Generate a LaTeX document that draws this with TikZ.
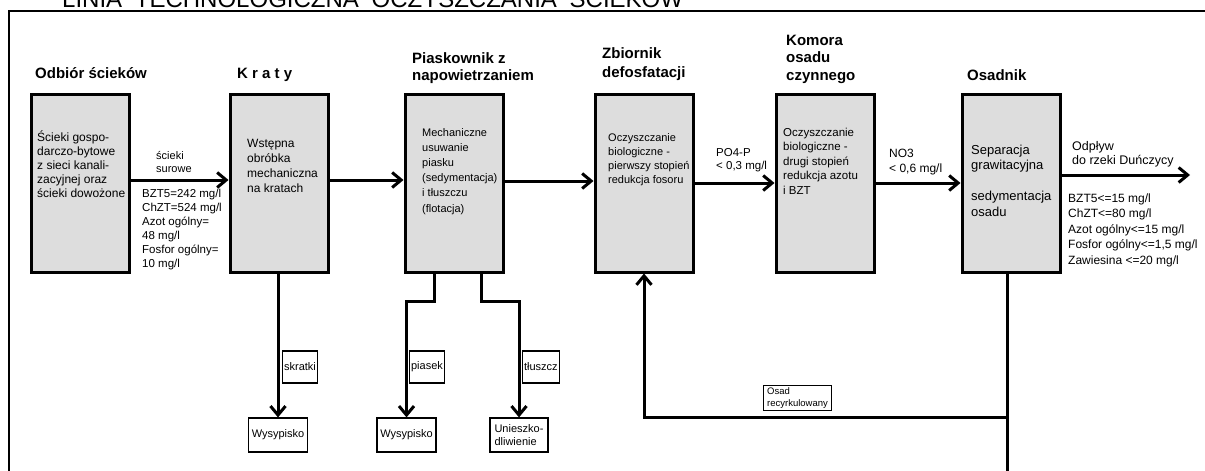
\documentclass[tikz,border=0pt]{standalone}
\usepackage{fontspec}
\setmainfont{Liberation Sans}
\usetikzlibrary{arrows.meta,positioning}
\definecolor{boxgray}{RGB}{221,221,221}
\newcommand{\fs}[2]{\fontsize{#1}{#2}\selectfont}

\begin{document}
\begin{tikzpicture}[x=1pt,y=-1pt,
  proc/.style={draw,line width=3pt,fill=boxgray,minimum width=98pt,minimum height=178pt,inner sep=0pt},
  head/.style={anchor=base west,inner sep=0pt,align=left,font=\fs{15}{17.5}\bfseries},
  txt/.style={anchor=base west,inner sep=0pt,align=left},
  lbl/.style={draw,line width=1.2pt,inner xsep=1.5pt,minimum height=32pt,anchor=west,font=\fs{11}{13}},
  dump/.style={draw,line width=1.2pt,minimum height=34pt,font=\fs{11}{13}},
  flow/.style={line width=3pt},
  arr/.style={-{Straight Barb[length=9pt,width=15pt]}}
]
\useasboundingbox (0,0) rectangle (1205,471);

% frame and title
\draw[line width=1.5pt] (1215,11) -- (9,11) -- (9,480);
\node[txt,font=\fs{24}{28}] (title) at (62,7.5) {LINIA\hspace{12.7pt}TECHNOLOGICZNA\hspace{12.7pt}OCZYSZCZANIA\hspace{12.7pt}ŚCIEKÓW};

% process boxes
\node[proc] (odb) at (80,183) {};
\node[proc] (krat) at (279,183) {};
\node[proc] (piask) at (454,183) {};
\node[proc] (defos) at (644,183) {};
\node[proc] (komora) at (825,183) {};
\node[proc] (osad) at (1011,183) {};

% headings (base = last line)
\node[head] (h1) at (35,78) {Odbiór ścieków};
\node[head] (h2) at (237,78) {K r a t y};
\node[head] (h3) at (412,80.5) {Piaskownik z\\napowietrzaniem};
\node[head,font=\fs{15}{19}\bfseries] (h4) at (602,77) {Zbiornik\\defosfatacji};
\node[head] (h5) at (786,80) {Komora\\osadu\\czynnego};
\node[head] (h6) at (967,80) {Osadnik};

% texts in boxes
\node[txt,font=\fs{12}{14}] (odbtxt) at (37,197) {Ścieki gospo-\\darczo-bytowe\\z sieci kanali-\\zacyjnej oraz\\ścieki dowożone};
\node[txt,font=\fs{12}{15}] (krattxt) at (247,192) {Wstępna\\obróbka\\mechaniczna\\na kratach};
\node[txt,font=\fs{11}{15.2}] (piasktxt) at (422,212) {Mechaniczne\\usuwanie\\piasku\\(sedymentacja)\\i tłuszczu\\(flotacja)};
\node[txt,font=\fs{11}{14}] (defostxt) at (608,183) {Oczyszczanie\\biologiczne -\\pierwszy stopień\\redukcja fosoru};
\node[txt,font=\fs{11.5}{14.5}] (komtxt) at (783,194) {Oczyszczanie\\biologiczne -\\drugi stopień\\redukcja azotu\\i BZT};
\node[txt,font=\fs{13}{15.5}] (osadtxt) at (971,216) {Separacja\\grawitacyjna\\[15.5pt]sedymentacja\\osadu};

% flow labels
\node[txt,font=\fs{11}{13.5}] (surtxt) at (156,172.5) {ścieki\\surowe};
\node[txt,font=\fs{11.5}{14}] (wlot) at (142,267) {BZT5=242 mg/l\\ChZT=524 mg/l\\Azot ogólny=\\48 mg/l\\Fosfor ogólny=\\10 mg/l};
\node[txt,font=\fs{11.5}{13.5}] (po4) at (716,169.5) {PO4-P\\< 0,3 mg/l};
\node[txt,font=\fs{12}{15}] (no3) at (889,172) {NO3\\< 0,6 mg/l};
\node[txt,font=\fs{12.5}{14}] (odplyw) at (1072,164) {Odpływ\\do rzeki Duńczycy};
\node[txt,font=\fs{12}{15.5}] (wylot) at (1068,264) {BZT5<=15 mg/l\\ChZT<=80 mg/l\\Azot ogólny<=15 mg/l\\Fosfor ogólny<=1,5 mg/l\\Zawiesina <=20 mg/l};

% main line
\draw[flow,arr] ([yshift=3pt]odb.east) -- ([yshift=3pt]krat.west);
\draw[flow,arr] ([yshift=3pt]krat.east) -- ([yshift=3pt]piask.west);
\draw[flow,arr] ([yshift=2pt]piask.east) -- ([yshift=2pt]defos.west);
\draw[flow,arr] (defos.east) -- (komora.west);
\draw[flow,arr] (komora.east) -- (osad.west);
\coordinate (rzeka) at (1190,175);
\draw[flow,arr] (osad.east |- rzeka) -- (rzeka);

% waste
\node[dump,minimum width=59pt] (wys1) at (278,435) {Wysypisko};
\node[dump,minimum width=57pt] (wys2) at (406.5,435) {Wysypisko};
\node[dump,minimum width=58pt,align=left] (unsz) at (519,435) {Unieszko-\\dliwienie};
\draw[flow,arr] (krat.south -| wys1.north) -- (wys1.north);
\draw[flow,arr] ([xshift=-20pt]piask.south) -- ++(0,28) -| (wys2.north);
\draw[flow,arr] ([xshift=27pt]piask.south) -- ++(0,28) -| (unsz.north);
\node[lbl] (skr) at (282,367) {skratki};
\node[lbl] (pias) at (409,367) {piasek};
\node[lbl] (tlu) at (522,367) {tłuszcz};

% recirculation
\coordinate (rdol) at (1007,480);
\coordinate (rwez) at (1007,417);
\draw[flow] ([xshift=-4pt]osad.south) -- (rdol);
\draw[flow,arr] (rwez) -| (defos.south);
\node[draw,fill=white,line width=1.2pt,align=left,font=\fs{9.5}{12},inner xsep=4pt,inner ysep=2pt] (recyk) at (797.5,398) {Osad\\recyrkulowany};
\end{tikzpicture}
\end{document}
